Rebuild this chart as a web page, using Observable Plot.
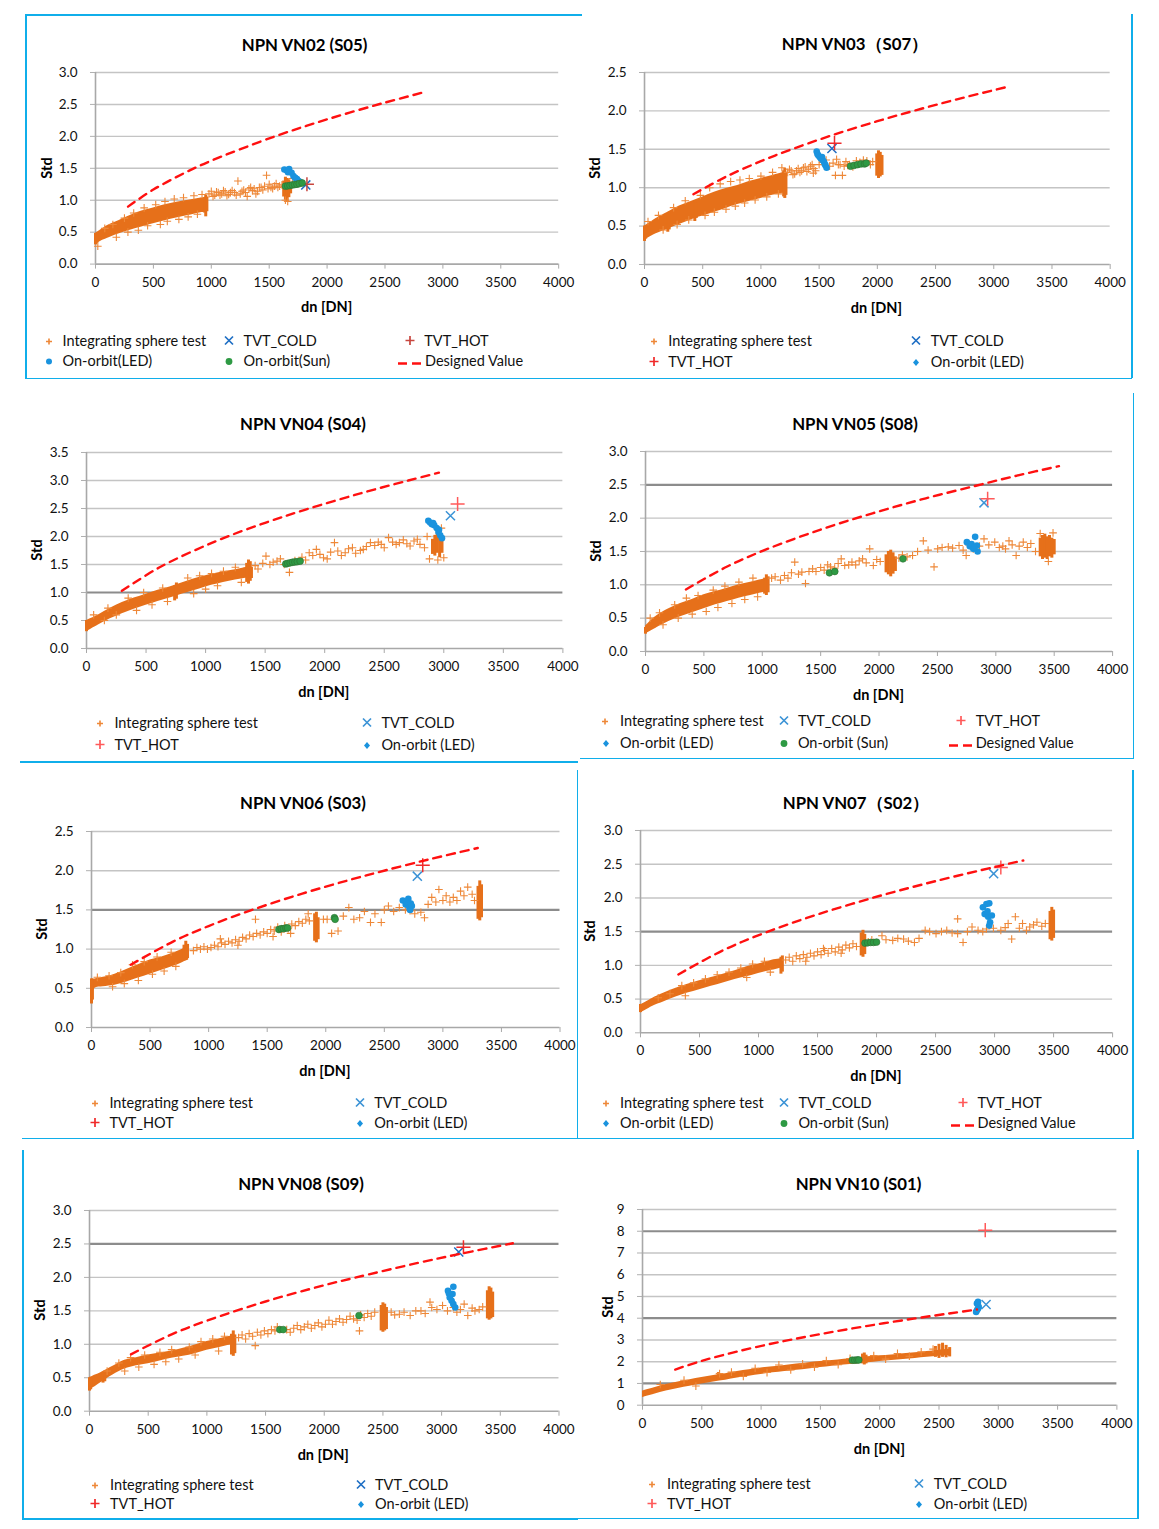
<!DOCTYPE html>
<html><head><meta charset="utf-8">
<script src="https://cdn.jsdelivr.net/npm/d3@7"></script>
<script src="https://cdn.jsdelivr.net/npm/@observablehq/plot@0.6"></script>
<style>
body{margin:0;background:#fff;}
#page{position:relative;width:1159px;height:1529px;overflow:hidden;font-family:Lato,"Open Sans",sans-serif;color:#000;}
.t{position:absolute;white-space:nowrap;}
.title{font-weight:bold;font-size:16.8px;transform:translate(-50%,-50%);}
.xlab{font-weight:bold;font-size:14.5px;transform:translate(-50%,-50%);}
.ylab{font-weight:bold;font-size:14.5px;transform:translate(-50%,-50%) rotate(-90deg);}
.leg{font-size:14.5px;transform:translateY(-50%);color:#111;}
.mk{position:absolute;transform:translate(-50%,-50%);}
.bl{position:absolute;background:#10AEEA;}
svg{overflow:visible;}
</style></head><body><div id="page"></div>
<script>
// ---------- shared ticks ----------
const xTicks = [0,500,1000,1500,2000,2500,3000,3500,4000];
const yTicks25 = [0,0.5,1.0,1.5,2.0,2.5];
const yTicks30 = [0,0.5,1.0,1.5,2.0,2.5,3.0];
const yTicks35 = [0,0.5,1.0,1.5,2.0,2.5,3.0,3.5];
const yTicks9 = [0,1,2,3,4,5,6,7,8,9];

// ---------- NPN VN02 (S05) ----------
const vn02Band = [[0,0.3,0.48],[50,0.36,0.54],[100,0.4,0.6],[200,0.47,0.68],[300,0.53,0.76],[400,0.58,0.83],[500,0.63,0.88],[600,0.68,0.93],[700,0.72,0.97],[800,0.76,1.0],[900,0.8,1.03],[960,0.82,1.05]];
const vn02Stacks = [[0,0.3,0.48],[10,0.32,0.46],[942,0.8,1.02],[952,0.74,1.08],[962,0.82,1.05],[1625,1.05,1.3],[1640,1.0,1.36],[1655,0.98,1.34],[1670,1.04,1.32],[1685,1.1,1.28]];
const vn02Sphere = [[20,0.28],[80,0.56],[150,0.62],[180,0.42],[250,0.72],[280,0.5],[330,0.8],[370,0.53],[420,0.88],[450,0.6],[520,0.93],[560,0.62],[600,0.98],[620,0.67],[680,1.02],[720,0.7],[760,1.04],[800,0.74],[850,1.07],[880,0.78],[920,1.09],[980,1.10],[1000,1.14],[1015,1.06],[1030,1.08],[1045,1.13],[1060,1.12],[1075,1.08],[1090,1.10],[1105,1.15],[1120,1.13],[1135,1.07],[1150,1.09],[1165,1.12],[1180,1.15],[1200,1.12],[1215,1.08],[1230,1.30],[1250,1.10],[1265,1.14],[1280,1.16],[1295,1.12],[1310,1.06],[1325,1.18],[1340,1.20],[1355,1.15],[1370,1.18],[1385,1.1],[1400,1.14],[1415,1.2],[1430,1.20],[1445,1.16],[1460,1.22],[1477,1.39],[1490,1.18],[1500,1.25],[1515,1.2],[1530,1.18],[1545,1.22],[1560,1.26],[1575,1.2],[1590,1.22],[1610,1.24],[1640,1.00],[1660,0.98],[1700,1.34]];
const vn02Led = [[1631,1.48],[1650,1.47],[1672,1.49],[1662,1.44],[1693,1.43],[1709,1.38],[1725,1.35],[1740,1.33],[1755,1.30],[1770,1.28]];
const vn02Sun = [[1640,1.22],[1660,1.225],[1680,1.23],[1700,1.24],[1720,1.245],[1740,1.25],[1760,1.26],[1785,1.27]];
const vn02Cold = [[1816,1.24]];
const vn02Hot = [[1826,1.25]];
const vn02Design = [[281,0.90],[500,1.167],[814,1.467],[1000,1.619],[1554,2.003],[2000,2.266],[2480,2.519],[2856,2.70]];

// ---------- NPN VN03 (S07) ----------
const vn03Band = [[0,0.32,0.5],[50,0.36,0.55],[100,0.4,0.6],[200,0.46,0.68],[300,0.52,0.76],[400,0.58,0.82],[500,0.63,0.88],[600,0.68,0.94],[700,0.73,0.99],[800,0.78,1.03],[900,0.82,1.08],[1000,0.86,1.12],[1100,0.9,1.16],[1200,0.93,1.2]];
const vn03Stacks = [[0,0.3,0.5],[10,0.33,0.48],[200,0.42,0.66],[212,0.45,0.68],[432,0.56,0.82],[445,0.6,0.8],[1195,0.88,1.22],[1205,0.86,1.25],[1215,0.9,1.2],[1995,1.15,1.44],[2010,1.12,1.48],[2025,1.14,1.46],[2040,1.16,1.42]];
const vn03Sphere = [[30,0.56],[120,0.64],[160,0.45],[250,0.74],[280,0.52],[350,0.83],[380,0.58],[480,0.9],[520,0.64],[560,1.0],[600,0.68],[650,1.05],[700,0.72],[740,1.08],[780,0.76],[820,1.1],[860,0.8],[900,1.12],[950,0.84],[1000,1.15],[1050,0.88],[1100,1.2],[1150,0.92],[1180,1.26],[1230,1.20],[1245,1.24],[1260,1.22],[1275,1.17],[1290,1.18],[1305,1.22],[1320,1.25],[1335,1.2],[1350,1.22],[1365,1.26],[1380,1.27],[1395,1.21],[1410,1.24],[1425,1.28],[1440,1.30],[1455,1.25],[1470,1.22],[1500,1.30],[1530,1.33],[1560,1.36],[1590,1.28],[1620,1.32],[1650,1.37],[1665,1.3],[1680,1.30],[1700,1.16],[1715,1.28],[1730,1.34],[1745,1.29],[1760,1.30],[1790,1.27],[1820,1.35],[1850,1.33],[1880,1.36],[1910,1.35],[1940,1.30],[1960,1.34],[1640,1.16],[1450,1.19]];
const vn03Led = [[1479,1.47],[1485,1.44],[1494,1.42],[1505,1.40],[1515,1.38],[1525,1.40],[1530,1.36],[1540,1.34],[1548,1.31],[1555,1.29],[1564,1.26]];
const vn03Sun = [[1770,1.28],[1800,1.29],[1830,1.30],[1860,1.31],[1890,1.31],[1905,1.32]];
const vn03Cold = [[1610,1.51]];
const vn03Hot = [[1632,1.58]];
const vn03Design = [[420,0.915],[700,1.143],[1000,1.345],[1264,1.5],[1600,1.677],[2000,1.866],[2337,2.011],[2700,2.157],[3135,2.32]];

// ---------- NPN VN04 (S04) ----------
const vn04Band = [[0,0.3,0.5],[100,0.42,0.6],[200,0.53,0.72],[300,0.62,0.82],[400,0.7,0.9],[500,0.77,0.97],[600,0.84,1.04],[700,0.9,1.1],[800,0.97,1.17],[900,1.03,1.24],[1000,1.1,1.3],[1100,1.15,1.35],[1200,1.2,1.39],[1300,1.24,1.43],[1380,1.27,1.47]];
const vn04Stacks = [[0,0.3,0.5],[740,0.85,1.12],[755,0.88,1.17],[1345,1.18,1.52],[1360,1.15,1.58],[1375,1.2,1.55],[1385,1.25,1.45],[2905,1.68,1.95],[2925,1.65,2.02],[2945,1.7,2.05],[2965,1.62,2.0],[2985,1.7,1.98]];
const vn04Sphere = [[60,0.6],[150,0.5],[180,0.72],[250,0.6],[350,0.9],[420,0.68],[480,1.0],[550,0.78],[640,1.08],[680,0.84],[850,1.26],[900,0.98],[950,1.3],[1000,1.06],[1050,1.34],[1100,1.12],[1150,1.38],[1250,1.45],[1300,1.18],[1416,1.48],[1440,1.42],[1480,1.52],[1507,1.65],[1540,1.5],[1567,1.54],[1600,1.56],[1628,1.6],[1660,1.5],[1704,1.36],[1750,1.57],[1809,1.63],[1840,1.58],[1870,1.71],[1900,1.66],[1930,1.77],[1960,1.68],[1990,1.62],[2021,1.6],[2050,1.72],[2082,1.89],[2110,1.74],[2140,1.66],[2172,1.71],[2200,1.78],[2233,1.8],[2260,1.7],[2300,1.75],[2324,1.77],[2350,1.82],[2384,1.89],[2420,1.84],[2450,1.9],[2475,1.86],[2500,1.8],[2536,1.98],[2570,1.9],[2600,1.86],[2627,1.89],[2660,1.94],[2690,1.87],[2717,1.83],[2750,1.92],[2778,1.95],[2800,1.86],[2838,1.80],[2860,2.0],[2880,1.6],[2950,1.58],[2980,2.15],[3000,1.62]];
const vn04Led = [[2870,2.28],[2885,2.25],[2900,2.22],[2910,2.24],[2920,2.2],[2940,2.15],[2955,2.08],[2960,2.12],[2970,2.02],[2985,1.97]];
const vn04Sun = [[1673,1.51],[1690,1.52],[1710,1.53],[1730,1.54],[1750,1.545],[1770,1.55],[1794,1.56]];
const vn04Cold = [[3056,2.37]];
const vn04Hot = [[3116,2.58]];
const vn04Design = [[297,1.03],[614,1.45],[1083,1.913],[1500,2.244],[1840,2.48],[2300,2.77],[2702,3.0],[2959,3.14]];

// ---------- NPN VN05 (S08) ----------
const vn05Band = [[0,0.26,0.38],[50,0.31,0.47],[100,0.36,0.54],[200,0.45,0.64],[300,0.52,0.72],[400,0.58,0.78],[500,0.64,0.85],[600,0.7,0.9],[700,0.75,0.95],[800,0.8,1.0],[900,0.84,1.04],[1000,0.88,1.08],[1050,0.9,1.1]];
const vn05Stacks = [[0,0.26,0.36],[1020,0.86,1.1],[1035,0.84,1.15],[1050,0.88,1.12],[2060,1.18,1.45],[2080,1.15,1.5],[2100,1.12,1.52],[2120,1.16,1.48],[2140,1.2,1.42],[3380,1.42,1.7],[3400,1.38,1.74],[3420,1.4,1.76],[3440,1.38,1.72],[3460,1.42,1.74],[3480,1.4,1.7],[3500,1.45,1.68]];
const vn05Sphere = [[40,0.5],[120,0.58],[150,0.4],[250,0.7],[280,0.5],[350,0.8],[400,0.56],[450,0.84],[520,0.6],[580,0.92],[620,0.66],[680,0.98],[740,0.72],[800,1.04],[850,0.78],[920,1.1],[960,0.82],[1080,1.1],[1110,1.12],[1156,1.07],[1190,1.14],[1220,1.1],[1250,1.18],[1278,1.34],[1310,1.16],[1339,1.19],[1370,1.02],[1400,1.2],[1431,1.24],[1460,1.2],[1500,1.26],[1530,1.22],[1560,1.3],[1584,1.27],[1620,1.25],[1650,1.32],[1676,1.39],[1706,1.29],[1740,1.3],[1768,1.34],[1800,1.3],[1830,1.36],[1859,1.39],[1890,1.33],[1920,1.54],[1951,1.29],[1980,1.38],[2010,1.35],[2170,1.4],[2200,1.45],[2240,1.42],[2287,1.44],[2330,1.5],[2379,1.66],[2420,1.52],[2471,1.27],[2502,1.54],[2540,1.56],[2593,1.57],[2630,1.55],[2685,1.59],[2720,1.52],[2746,1.44],[2770,1.6],[2807,1.54],[2860,1.58],[2899,1.69],[2940,1.6],[2991,1.64],[3030,1.56],[3060,1.58],[3083,1.54],[3113,1.66],[3140,1.6],[3174,1.44],[3200,1.58],[3235,1.64],[3270,1.56],[3300,1.62],[3340,1.5],[3380,1.77],[3450,1.35],[3490,1.78]];
const vn05Led = [[2752,1.64],[2777,1.58],[2792,1.61],[2807,1.54],[2823,1.72],[2838,1.59],[2844,1.5],[2815,1.56]];
const vn05Sun = [[1575,1.18],[1621,1.20],[2205,1.39]];
const vn05Cold = [[2899,2.23]];
const vn05Hot = [[2930,2.29]];
const vn05Design = [[346,0.93],[700,1.275],[1034,1.531],[1500,1.829],[1951,2.077],[2400,2.298],[2838,2.49],[3200,2.646],[3541,2.78]];

// ---------- NPN VN06 (S03) ----------
const vn06Band = [[0,0.35,0.62],[30,0.5,0.62],[100,0.52,0.64],[200,0.54,0.68],[300,0.58,0.74],[400,0.63,0.8],[500,0.68,0.86],[600,0.73,0.9],[700,0.78,0.95],[780,0.83,1.0],[830,0.86,1.04]];
const vn06Stacks = [[0,0.3,0.62],[8,0.35,0.6],[790,0.88,1.05],[805,0.9,1.1],[820,0.88,1.06],[1905,1.1,1.45],[1920,1.08,1.47],[1935,1.12,1.4],[3300,1.38,1.8],[3315,1.36,1.87],[3330,1.4,1.82]];
const vn06Sphere = [[50,0.64],[150,0.66],[180,0.52],[250,0.7],[280,0.56],[350,0.8],[400,0.6],[450,0.84],[520,0.68],[560,0.9],[620,0.72],[680,0.96],[720,0.78],[870,0.98],[900,1.02],[930,1.0],[960,1.03],[990,1.0],[1020,1.02],[1050,1.05],[1080,1.03],[1110,1.08],[1140,1.06],[1170,1.1],[1200,1.08],[1230,1.12],[1260,1.1],[1290,1.15],[1320,1.13],[1350,1.18],[1380,1.16],[1410,1.2],[1440,1.18],[1470,1.22],[1500,1.2],[1530,1.25],[1560,1.23],[1590,1.28],[1620,1.22],[1650,1.3],[1680,1.26],[1710,1.32],[1740,1.3],[1770,1.35],[1800,1.33],[1830,1.38],[1860,1.36],[1400,1.38],[1250,1.05],[1100,1.13],[1550,1.16],[1700,1.2],[1850,1.45],[1980,1.38],[2012,1.38],[2050,1.2],[2105,1.23],[2150,1.42],[2197,1.53],[2240,1.38],[2289,1.4],[2330,1.48],[2382,1.34],[2420,1.45],[2474,1.34],[2500,1.5],[2535,1.55],[2580,1.48],[2628,1.53],[2680,1.5],[2720,1.49],[2760,1.45],[2812,1.47],[2843,1.4],[2874,1.57],[2905,1.66],[2940,1.6],[2966,1.76],[3000,1.62],[3028,1.68],[3060,1.6],[3089,1.66],[3120,1.62],[3151,1.74],[3180,1.68],[3212,1.79],[3250,1.7],[3270,1.62]];
const vn06Led = [[2658,1.62],[2683,1.57],[2689,1.6],[2705,1.64],[2714,1.53],[2726,1.58],[2735,1.55],[2720,1.5]];
const vn06Sun = [[1600,1.25],[1620,1.26],[1640,1.26],[1660,1.27],[1674,1.27],[2074,1.40],[2080,1.38]];
const vn06Cold = [[2782,1.93]];
const vn06Hot = [[2828,2.07]];
const vn06Design = [[335,0.80],[700,1.099],[1000,1.294],[1366,1.498],[1800,1.708],[2200,1.881],[2505,2.003],[2900,2.151],[3298,2.29]];

// ---------- NPN VN07 (S02) ----------
const vn07Band = [[0,0.29,0.41],[50,0.34,0.46],[100,0.39,0.51],[200,0.46,0.59],[300,0.53,0.66],[400,0.59,0.72],[500,0.64,0.77],[600,0.69,0.82],[700,0.74,0.87],[800,0.79,0.92],[900,0.83,0.98],[1000,0.88,1.02],[1100,0.92,1.07],[1200,0.96,1.1]];
const vn07Stacks = [[0,0.3,0.42],[1190,0.87,1.12],[1202,0.9,1.14],[1870,1.14,1.48],[1885,1.12,1.52],[1900,1.16,1.46],[3470,1.38,1.8],[3485,1.36,1.86],[3500,1.4,1.82]];
const vn07Sphere = [[150,0.52],[250,0.58],[350,0.7],[380,0.55],[450,0.74],[550,0.8],[650,0.86],[750,0.9],[850,0.96],[900,0.82],[950,1.02],[1050,1.06],[1100,0.9],[1230,1.08],[1260,1.12],[1290,1.06],[1320,1.14],[1350,1.1],[1380,1.16],[1410,1.12],[1440,1.18],[1470,1.14],[1500,1.2],[1530,1.16],[1560,1.22],[1590,1.18],[1620,1.25],[1650,1.2],[1680,1.27],[1710,1.23],[1740,1.3],[1770,1.26],[1800,1.32],[1830,1.28],[1400,1.06],[1550,1.25],[1700,1.18],[1930,1.35],[1960,1.38],[2046,1.44],[2080,1.38],[2137,1.37],[2180,1.4],[2229,1.39],[2270,1.36],[2321,1.34],[2360,1.4],[2412,1.52],[2450,1.5],[2504,1.47],[2550,1.5],[2595,1.52],[2640,1.48],[2687,1.47],[2687,1.69],[2733,1.34],[2770,1.5],[2809,1.57],[2860,1.52],[2900,1.5],[2931,1.54],[2990,1.55],[3053,1.52],[3090,1.56],[3115,1.62],[3145,1.39],[3176,1.72],[3210,1.55],[3237,1.62],[3270,1.52],[3298,1.57],[3330,1.6],[3359,1.64],[3400,1.58],[3430,1.62]];
const vn07Led = [[2901,1.86],[2931,1.91],[2955,1.92],[2916,1.76],[2946,1.72],[2962,1.64],[2955,1.59],[2977,1.74],[2940,1.80]];
const vn07Sun = [[1902,1.33],[1925,1.335],[1950,1.34],[1975,1.34],[2000,1.345]];
const vn07Cold = [[2992,2.36]];
const vn07Hot = [[3053,2.45]];
const vn07Design = [[321,0.865],[700,1.224],[1069,1.493],[1500,1.755],[2015,2.025],[2500,2.249],[3023,2.468],[3243,2.555]];

// ---------- NPN VN08 (S09) ----------
const vn08Band = [[0,0.32,0.5],[50,0.37,0.54],[100,0.43,0.58],[200,0.54,0.67],[300,0.63,0.76],[400,0.68,0.8],[500,0.71,0.84],[600,0.75,0.87],[700,0.79,0.9],[800,0.82,0.94],[900,0.86,0.99],[1000,0.91,1.04],[1100,0.95,1.08],[1200,0.99,1.12],[1240,0.99,1.14]];
const vn08Stacks = [[0,0.3,0.5],[10,0.32,0.48],[115,0.42,0.58],[130,0.44,0.56],[1210,0.84,1.15],[1225,0.82,1.2],[1238,0.86,1.14],[2485,1.2,1.58],[2500,1.18,1.62],[2515,1.2,1.6],[2530,1.22,1.55],[3390,1.38,1.8],[3405,1.36,1.86],[3420,1.38,1.84],[3435,1.4,1.78]];
const vn08Sphere = [[150,0.6],[250,0.72],[300,0.6],[350,0.8],[420,0.66],[470,0.84],[550,0.7],[600,0.88],[650,0.74],[700,0.92],[760,0.78],[850,0.96],[900,0.84],[950,1.04],[1050,1.08],[1100,0.9],[1150,1.12],[1270,1.1],[1300,1.14],[1330,1.08],[1360,1.16],[1390,1.12],[1412,0.98],[1430,1.18],[1460,1.14],[1490,1.2],[1520,1.16],[1550,1.22],[1580,1.2],[1600,1.26],[1680,1.22],[1710,1.18],[1740,1.24],[1770,1.28],[1800,1.22],[1830,1.26],[1860,1.3],[1890,1.24],[1920,1.28],[1950,1.32],[1980,1.26],[2010,1.3],[2040,1.36],[2070,1.3],[2100,1.34],[2130,1.38],[2160,1.33],[2190,1.37],[2220,1.42],[2250,1.38],[2280,1.36],[2310,1.44],[2340,1.4],[2370,1.46],[2400,1.42],[2430,1.48],[2300,1.2],[2570,1.48],[2600,1.44],[2640,1.45],[2680,1.48],[2732,1.43],[2780,1.5],[2824,1.5],[2860,1.46],[2901,1.63],[2916,1.55],[2960,1.52],[3008,1.58],[3050,1.5],[3100,1.55],[3130,1.48],[3160,1.52],[3192,1.6],[3223,1.43],[3260,1.54],[3284,1.5],[3320,1.52],[3350,1.56]];
const vn08Led = [[3054,1.80],[3100,1.86],[3069,1.70],[3085,1.65],[3100,1.6],[3116,1.55],[3093,1.75],[3062,1.76]];
const vn08Sun = [[1621,1.22],[1651,1.22],[2296,1.43]];
const vn08Cold = [[3146,2.38]];
const vn08Hot = [[3186,2.45]];
const vn08Design = [[353,0.85],[700,1.148],[1000,1.353],[1500,1.64],[2000,1.883],[2272,2.0],[2800,2.217],[3200,2.367],[3607,2.51]];

// ---------- NPN VN10 (S01) ----------
const vn10Band = [[0,0.35,0.65],[100,0.5,0.8],[200,0.65,0.95],[300,0.77,1.07],[400,0.87,1.17],[500,0.97,1.27],[600,1.07,1.37],[700,1.15,1.45],[800,1.25,1.55],[900,1.33,1.63],[1000,1.41,1.71],[1100,1.49,1.77],[1200,1.55,1.83],[1300,1.61,1.89],[1400,1.67,1.95],[1500,1.73,2.01],[1600,1.79,2.05],[1700,1.85,2.11],[1800,1.9,2.17],[1900,1.95,2.23],[2000,2.01,2.27],[2100,2.05,2.31],[2200,2.1,2.37],[2300,2.15,2.41],[2400,2.2,2.47],[2500,2.25,2.53],[2590,2.27,2.57]];
const vn10Stacks = [[640,1.15,1.5],[1855,1.9,2.35],[1870,1.85,2.4],[1885,1.9,2.3],[2470,2.2,2.7],[2500,2.15,2.8],[2530,2.2,2.85],[2560,2.18,2.75],[2590,2.22,2.65]];
const vn10Sphere = [[150,0.95],[350,1.15],[450,0.88],[650,1.45],[750,1.52],[850,1.32],[950,1.7],[1050,1.5],[1150,1.85],[1250,1.62],[1350,1.9],[1450,1.75],[1550,2.05],[1650,1.86],[1750,2.15],[1950,2.28],[2050,2.12],[2150,2.38],[2250,2.25],[2350,2.45],[2450,2.58]];
const vn10Led = [[2820,4.68],[2829,4.45],[2835,4.52],[2813,4.29],[2829,4.75],[2822,4.38]];
const vn10Sun = [[1769,2.07],[1790,2.07],[1810,2.08],[1824,2.08]];
const vn10Cold = [[2897,4.63]];
const vn10Hot = [[2890,8.05]];
const vn10Design = [[276,1.64],[500,2.04],[800,2.47],[1149,2.9],[1500,3.27],[1900,3.65],[2299,3.99],[2600,4.23],[2820,4.4]];

// ---------- legend labels ----------
const LBL = {sphere:"Integrating sphere test", cold:"TVT_COLD", hot:"TVT_HOT", led:"On-orbit (LED)", sun:"On-orbit (Sun)", design:"Designed Value"};

// ---------- colours ----------
const ORANGE = "#E6701A", ORANGE2 = "#EE8838", LEDC = "#1A93DE", SUNC = "#2E9A44", COLDC = "#1F6FC4", HOTC = "#F02A2A", DESC = "#FF1010";

const page = document.getElementById("page");
function addText(cls, txt, x, y){ const d=document.createElement("div"); d.className="t "+cls; d.textContent=txt; d.style.left=x+"px"; d.style.top=y+"px"; page.appendChild(d); return d;}

function markerSVG(kind, opt){
  const s = {
    sphere: `<svg width="10" height="10" viewBox="-5 -5 10 10"><path d="M-3,0H3M0,-3V3" stroke="${ORANGE2}" stroke-width="1.6"/></svg>`,
    cold: `<svg width="12" height="12" viewBox="-6 -6 12 12"><path d="M-4,-4L4,4M-4,4L4,-4" stroke="${opt.coldC||COLDC}" stroke-width="1.7"/></svg>`,
    hot: `<svg width="12" height="12" viewBox="-6 -6 12 12"><path d="M-4.5,0H4.5M0,-4.5V4.5" stroke="${opt.hotC||HOTC}" stroke-width="1.7"/></svg>`,
    led: opt.ledDot ? `<svg width="10" height="10" viewBox="-5 -5 10 10"><circle r="3" fill="${LEDC}"/></svg>` : `<svg width="10" height="10" viewBox="-5 -5 10 10"><path d="M0,-3.6L3,0L0,3.6L-3,0Z" fill="${LEDC}"/></svg>`,
    sun: `<svg width="10" height="10" viewBox="-5 -5 10 10"><circle r="3.4" fill="${SUNC}"/></svg>`,
  };
  return s[kind];
}

function drawPanel(p){
  const mL=60, mR=22, mT=12, mB=40;
  const w = p.x1 - p.x0, h = p.yBot - p.yTop;
  const grid = p.yTicks.filter(v=>v>0);
  const chart = Plot.plot({
    width: w+mL+mR, height: h+mT+mB,
    marginLeft:mL, marginRight:mR, marginTop:mT, marginBottom:mB,
    x:{domain:[0,4000]}, y:{domain:[0,p.yTicks[p.yTicks.length-1]]},
    style:{fontFamily:"Lato, 'Open Sans', sans-serif", fontSize:"13.5px", color:"#111", background:"transparent", overflow:"visible"},
    marks:[
      Plot.ruleY(grid, {x1:0, x2:4000, stroke: d => p.dark.includes(d) ? "#8C8C8C" : "#C4C4C4", strokeWidth: d => p.dark.includes(d) ? 2.2 : 1.4}),
      Plot.axisY({ticks:p.yTicks, tickSize:5, tickPadding:13, tickFormat:p.fmt, stroke:"#B0B0B0", label:null, fontSize:13.5}),
      Plot.axisX({ticks:xTicks, tickSize:5, tickPadding:8, tickFormat:d=>String(d), stroke:"#A8A8A8", label:null, fontSize:13.5}),
      Plot.ruleX([0], {stroke:"#A8A8A8", strokeWidth:1.6}),
      Plot.ruleY([0], {x1:0, x2:4000, stroke:"#A8A8A8", strokeWidth:1.6}),
      Plot.areaY(p.band, {x:d=>d[0], y1:d=>d[1], y2:d=>d[2], fill:ORANGE, curve:"catmull-rom"}),
      Plot.ruleX(p.stacks, {x:d=>d[0], y1:d=>d[1], y2:d=>d[2], stroke:ORANGE, strokeWidth:3}),
      Plot.dot(p.sphere, {x:d=>d[0], y:d=>d[1], symbol:"plus", r:2.6, stroke:ORANGE2, strokeWidth:1.1}),
      Plot.dot(p.cold, {x:d=>d[0], y:d=>d[1], symbol:"times", r:4.2, stroke:p.coldC||COLDC, strokeWidth:1.5}),
      Plot.dot(p.hot, {x:d=>d[0], y:d=>d[1], symbol:"plus", r:4.6, stroke:p.hotC||HOTC, strokeWidth:1.5}),
      Plot.dot(p.led, {x:d=>d[0], y:d=>d[1], r:3.3, fill:LEDC}),
      Plot.dot(p.sun, {x:d=>d[0], y:d=>d[1], r:3.4, fill:SUNC, stroke:"#2F6F33", strokeWidth:0.6}),
      Plot.line(p.design, {x:d=>d[0], y:d=>d[1], stroke:DESC, strokeWidth:2.4, strokeDasharray:"8,6", curve:"catmull-rom"})
    ]
  });
  chart.style.position="absolute";
  chart.style.left=(p.x0-mL)+"px";
  chart.style.top=(p.yTop-mT)+"px";
  page.appendChild(chart);

  addText("title", p.title, p.tx, p.ty);
  addText("xlab", "dn [DN]", (p.x0+p.x1)/2, p.yBot+43);
  addText("ylab", "Std", p.x0-p.ylOff, (p.yTop+p.yBot)/2);

  for (const it of p.legend){
    const [kind, mx, tx, y, label] = it;
    const d=document.createElement("div"); d.className="mk";
    d.style.left=mx+"px"; d.style.top=y+"px";
    d.innerHTML = kind === "design"
      ? `<svg width="24" height="6" viewBox="0 -3 24 6"><path d="M0,0H9M14,0H23" stroke="${DESC}" stroke-width="2.4"/></svg>`
      : markerSVG(kind, p);
    page.appendChild(d);
    addText("leg", label || LBL[kind], tx, y);
  }
}

const panels = [
  {title:"NPN VN02 (S05)", tx:304.6, ty:44.3, x0:95, x1:558.2, yTop:71.7, yBot:263.3, yTicks:yTicks30, fmt:d3.format(".1f"), dark:[], ylOff:48.6,
   band:vn02Band, stacks:vn02Stacks, sphere:vn02Sphere, led:vn02Led, sun:vn02Sun, cold:vn02Cold, hot:vn02Hot, design:vn02Design, hotC:"#C8463F", ledDot:true,
   legend:[["sphere",49.3,62.5,340],["cold",229.3,243.6,340],["hot",410,424.3,340],["led",49.3,62.5,360,"On-orbit(LED)"],["sun",229.3,243.6,360,"On-orbit(Sun)"],["design",410,425,360]]},
  {title:"NPN VN03（S07）", tx:855, ty:44.3, x0:643.6, x1:1109.3, yTop:72.3, yBot:264.3, yTicks:yTicks25, fmt:d3.format(".1f"), dark:[], ylOff:50,
   band:vn03Band, stacks:vn03Stacks, sphere:vn03Sphere, led:vn03Led, sun:vn03Sun, cold:vn03Cold, hot:vn03Hot, design:vn03Design,
   legend:[["sphere",654.3,668.2,340],["cold",916.4,930.7,340],["hot",654.3,668.2,361],["led",916.4,930.7,361]]},
  {title:"NPN VN04 (S04)", tx:302.9, ty:422.7, x0:85.6, x1:562, yTop:451.7, yBot:647.7, yTicks:yTicks35, fmt:d3.format(".1f"), dark:[1.0], ylOff:50,
   band:vn04Band, stacks:vn04Stacks, sphere:vn04Sphere, led:vn04Led, sun:vn04Sun, cold:vn04Cold, hot:vn04Hot, design:vn04Design, coldC:"#3C93D6", hotC:"#FF5A5A",
   legend:[["sphere",100,114.4,721.7],["cold",367,381.4,721.7],["hot",100,114.4,744.3],["led",367,381.4,744.3]]},
  {title:"NPN VN05 (S08)", tx:855, ty:422.7, x0:645, x1:1112.1, yTop:451, yBot:651, yTicks:yTicks30, fmt:d3.format(".1f"), dark:[2.5], ylOff:50,
   band:vn05Band, stacks:vn05Stacks, sphere:vn05Sphere, led:vn05Led, sun:vn05Sun, cold:vn05Cold, hot:vn05Hot, design:vn05Design, coldC:"#3C93D6", hotC:"#FF5A5A",
   legend:[["sphere",605,620,720],["cold",784.3,797.9,720],["hot",961.4,975.7,720],["led",605.7,620,741.7],["sun",784.3,797.9,741.7],["design",961.3,975.7,741.7]]},
  {title:"NPN VN06 (S03)", tx:302.9, ty:801.7, x0:90.6, x1:559.1, yTop:830.7, yBot:1026.7, yTicks:yTicks25, fmt:d3.format(".1f"), dark:[1.5], ylOff:50,
   band:vn06Band, stacks:vn06Stacks, sphere:vn06Sphere, led:vn06Led, sun:vn06Sun, cold:vn06Cold, hot:vn06Hot, design:vn06Design, coldC:"#3C93D6",
   legend:[["sphere",95,109.4,1101.7],["cold",359.8,374.2,1101.7],["hot",95,109.4,1122.3],["led",359.8,374.2,1122.3]]},
  {title:"NPN VN07（S02）", tx:856, ty:802.7, x0:639.9, x1:1112, yTop:830, yBot:1032.3, yTicks:yTicks30, fmt:d3.format(".1f"), dark:[1.5], ylOff:50.5,
   band:vn07Band, stacks:vn07Stacks, sphere:vn07Sphere, led:vn07Led, sun:vn07Sun, cold:vn07Cold, hot:vn07Hot, design:vn07Design, coldC:"#3C93D6", hotC:"#FF5A5A",
   legend:[["sphere",605.6,620,1101.7],["cold",784,798.4,1101.7],["hot",963,977.5,1101.7],["led",605.6,620,1121.7],["sun",784,798.4,1121.7],["design",963.3,977.5,1121.7]]},
  {title:"NPN VN08 (S09)", tx:301, ty:1183.3, x0:88.5, x1:558, yTop:1210, yBot:1410.7, yTicks:yTicks30, fmt:d3.format(".1f"), dark:[2.5], ylOff:50,
   band:vn08Band, stacks:vn08Stacks, sphere:vn08Sphere, led:vn08Led, sun:vn08Sun, cold:vn08Cold, hot:vn08Hot, design:vn08Design,
   legend:[["sphere",95,110,1484],["cold",360.5,375,1484],["hot",95,110,1502.7],["led",360.5,375,1502.7]]},
  {title:"NPN VN10 (S01)", tx:858.5, ty:1182.7, x0:642.2, x1:1116.6, yTop:1209.3, yBot:1405, yTicks:yTicks9, fmt:d3.format("d"), dark:[8,4,1], ylOff:35,
   band:vn10Band, stacks:vn10Stacks, sphere:vn10Sphere, led:vn10Led, sun:vn10Sun, cold:vn10Cold, hot:vn10Hot, design:vn10Design, coldC:"#3C93D6", hotC:"#FF5A5A",
   legend:[["sphere",652.4,667,1483.3],["cold",919.2,933.8,1483.3],["hot",652.4,667,1503.3],["led",919.2,933.8,1503.3]]}
];
panels.forEach(drawPanel);

// ---------- panel frame lines ----------
const frames = [
  [25,14,557,1.5],[25,14,1.5,364],[25,377.5,1107,1.5],[1131,14,1.5,364],
  [20,761,558,1.5],[1132.5,393,1.5,365],[580,757.5,554,1.5],
  [576.5,770,1.5,368],[22,1137.5,1112,1.5],[1132,770,1.5,368],
  [22,1150,1.5,369],[22,1518,556,1.5],[1137,1150,1.5,369],[578,1517.5,560,1.5]
];
for (const [x,y,w,h] of frames){ const d=document.createElement("div"); d.className="bl"; Object.assign(d.style,{left:x+"px",top:y+"px",width:w+"px",height:h+"px"}); page.appendChild(d);}
</script></body></html>
